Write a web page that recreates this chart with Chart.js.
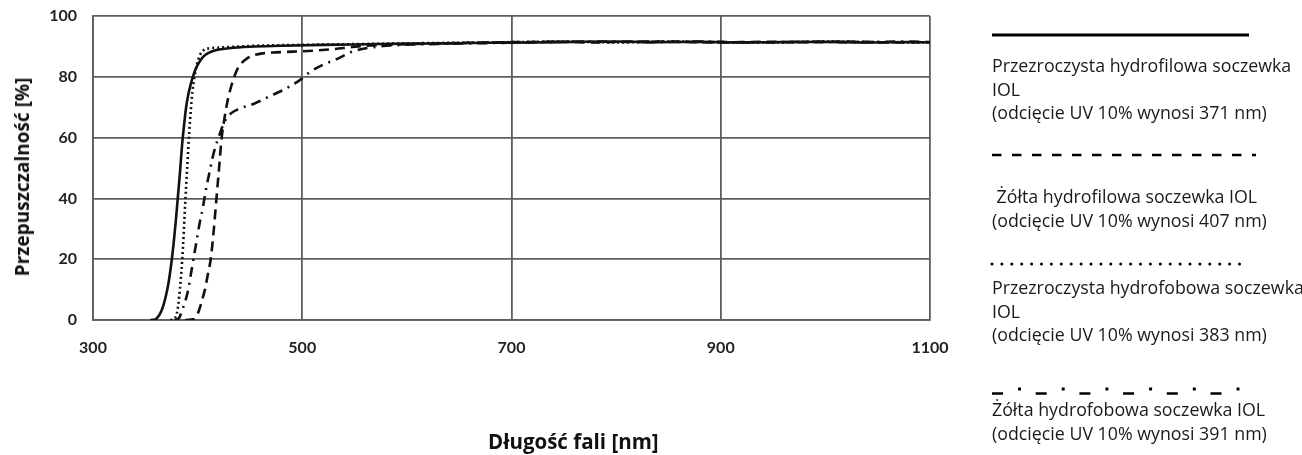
<!DOCTYPE html>
<html>
<head>
<meta charset="utf-8">
<script src="https://cdn.jsdelivr.net/npm/chart.js@4.4.1/dist/chart.umd.min.js"></script>
<style>
  html, body { margin: 0; padding: 0; background: #fff; }
  #wrap { position: relative; width: 1302px; height: 455px; overflow: hidden; }
  #myChart { position: absolute; left: 0; top: 0; }
  .lg { position: absolute; left: 992px; font-family: "Open Sans", sans-serif; font-size: 17.8px;
        line-height: 23.5px; color: #1a1a1a; white-space: nowrap; }
  #xTitle { position: absolute; left: 488px; top: 431px; font-family: "Open Sans", sans-serif;
            font-weight: bold; font-size: 20.5px; line-height: 20.5px; color: #111; white-space: nowrap; }
  #yTitle { position: absolute; left: 22px; top: 177px; transform: translate(-50%, -50%) rotate(-90deg);
            font-family: "Open Sans", sans-serif; font-weight: bold; font-size: 19px; color: #111; white-space: nowrap; }
  #legendLines { position: absolute; left: 0; top: 0; }
</style>
</head>
<body>
<div id="wrap">
  <canvas id="myChart" width="1302" height="455"></canvas>
  <div id="yTitle">Przepuszczalność [%]</div>
  <div id="xTitle">Długość fali [nm]</div>
  <svg id="legendLines" width="1302" height="455">
    <line x1="992" y1="35" x2="1249" y2="35" stroke="#000" stroke-width="3"/>
    <line x1="992" y1="155" x2="1256" y2="155" stroke="#000" stroke-width="2.5" stroke-dasharray="9.5 10.5"/>
    <line x1="992" y1="264" x2="1243" y2="264" stroke="#000" stroke-width="3" stroke-linecap="round" stroke-dasharray="0 9.9"/>
    <line x1="992" y1="393.5" x2="1250" y2="393.5" stroke="#000" stroke-width="2.5" stroke-dasharray="11 32.7"/>
    <line x1="992" y1="389" x2="1250" y2="389" stroke="#000" stroke-width="3" stroke-dasharray="0 26 3 14.7"/>
  </svg>
  <div class="lg" style="top:54px">Przezroczysta hydrofilowa soczewka<br>IOL<br>(odcięcie UV 10% wynosi 371 nm)</div>
  <div class="lg" style="top:185px">&nbsp;Żółta hydrofilowa soczewka IOL<br>(odcięcie UV 10% wynosi 407 nm)</div>
  <div class="lg" style="top:276px">Przezroczysta hydrofobowa soczewka<br>IOL<br>(odcięcie UV 10% wynosi 383 nm)</div>
  <div class="lg" style="top:398px">Żółta hydrofobowa soczewka IOL<br>(odcięcie UV 10% wynosi 391 nm)</div>
</div>
<script>
// axis ticks
const xTicks = [300, 500, 700, 900, 1100];
const yTicks = [0, 20, 40, 60, 80, 100];

// clear hydrophilic IOL (solid)
const clearHydrophilicNm = [355, 360, 364, 367, 369, 371, 373, 375, 377, 379, 381, 383, 385, 387, 389, 391, 393, 395, 398, 401, 405, 410, 418, 430, 450, 480, 520, 560, 600, 640, 680, 720, 760, 800, 840, 880, 920, 960, 1000, 1040, 1080, 1100];
const clearHydrophilicT = [0, 0.3, 2, 4.5, 7, 10, 14, 19, 25, 32, 40, 48, 57, 64, 70, 74, 77, 79.5, 82.5, 84.5, 86.5, 87.8, 88.8, 89.4, 89.9, 90.2, 90.5, 90.7, 90.9, 91.0, 91.2, 91.3, 91.5, 91.6, 91.4, 91.5, 91.3, 91.4, 91.5, 91.3, 91.4, 91.3];

// yellow hydrophilic IOL (dashed)
const yellowHydrophilicNm = [388, 397, 400, 403, 405, 407, 409.5, 412.5, 415, 418, 420.5, 423, 425.5, 428, 431, 434.5, 438, 442, 447, 453, 462, 472, 485, 500, 515, 530, 548, 565, 590, 620, 660, 700, 740, 780, 820, 860, 900, 940, 980, 1020, 1060, 1100];
const yellowHydrophilicT = [0, 0.3, 2, 5, 7.5, 10, 14.5, 20, 28, 40, 50, 60, 66, 71, 75.5, 79.5, 82.5, 84.5, 86, 87, 87.7, 88, 88.2, 88.4, 88.7, 89.1, 89.8, 90.3, 90.6, 90.9, 91.2, 91.4, 91.5, 91.3, 91.6, 91.5, 91.3, 91.5, 91.4, 91.6, 91.3, 91.4];

// clear hydrophobic IOL (dotted)
const clearHydrophobicNm = [374, 378, 380, 381.5, 383, 384.5, 386, 387.5, 389, 390.5, 392, 393.5, 395, 397, 399, 402, 406, 412, 420, 435, 455, 480, 520, 560, 600, 650, 700, 750, 800, 850, 900, 950, 1000, 1050, 1100];
const clearHydrophobicT = [0, 0.5, 2, 5, 10, 16, 24, 34, 44, 53, 62, 69, 75, 80, 83.5, 87, 88.8, 89.4, 89.6, 89.9, 90.2, 90.4, 90.6, 90.8, 91.0, 91.2, 91.4, 91.6, 91.3, 91.6, 91.4, 91.3, 91.6, 91.4, 91.3];

// yellow hydrophobic IOL (dash-dot)
const yellowHydrophobicNm = [378, 382, 385, 388, 391, 393.5, 396, 399, 402, 405, 408, 411, 414, 417, 420, 423, 427, 432, 440, 455, 470, 482, 498, 508, 520, 533, 548, 565, 590, 630, 680, 730, 780, 830, 880, 930, 980, 1030, 1080, 1100];
const yellowHydrophobicT = [0, 0.5, 3, 6, 10, 15, 20, 26, 32, 37, 43, 48, 53, 57, 60, 63, 66, 68, 69.5, 71.3, 73.8, 75.7, 79, 81.7, 84, 85.8, 88.3, 89.6, 90.4, 90.8, 91.1, 91.4, 91.6, 91.4, 91.6, 91.3, 91.5, 91.4, 91.6, 91.4];

const toPoints = (xs, ys) => xs.map((x, i) => ({ x: x, y: ys[i] }));

const lineBase = {
  borderColor: "#111",
  borderWidth: 2.6,
  pointRadius: 0,
  fill: false,
  cubicInterpolationMode: "monotone"
};

const gridColor = "#5e5e5e";
const tickFont = { family: "Lato", weight: "bold", size: 16 };

const ctx = document.getElementById("myChart").getContext("2d");
const myChart = new Chart(ctx, {
  type: "line",
  data: {
    datasets: [
      Object.assign({ label: "Przezroczysta hydrofilowa", data: toPoints(clearHydrophilicNm, clearHydrophilicT) }, lineBase),
      Object.assign({ label: "Żółta hydrofilowa", data: toPoints(yellowHydrophilicNm, yellowHydrophilicT), borderDash: [10, 6] }, lineBase),
      Object.assign({ label: "Przezroczysta hydrofobowa", data: toPoints(clearHydrophobicNm, clearHydrophobicT), borderDash: [2, 3] }, lineBase),
      Object.assign({ label: "Żółta hydrofobowa", data: toPoints(yellowHydrophobicNm, yellowHydrophobicT), borderDash: [10, 6, 2, 6] }, lineBase)
    ]
  },
  options: {
    responsive: false,
    animation: false,
    layout: { padding: { top: 16, right: 372, bottom: 0, left: 0 } },
    scales: {
      x: {
        type: "linear",
        min: xTicks[0],
        max: xTicks[xTicks.length - 1],
        afterBuildTicks: (scale) => { scale.ticks = xTicks.map(v => ({ value: v })); },
        afterFit: (scale) => { scale.height = 135; },
        grid: { color: gridColor, lineWidth: 1.8, drawTicks: false },
        border: { color: gridColor, width: 1.8 },
        ticks: { padding: 18, color: "#222", font: tickFont, maxRotation: 0, callback: (v) => String(v) }
      },
      y: {
        min: yTicks[0],
        max: yTicks[yTicks.length - 1],
        afterBuildTicks: (scale) => { scale.ticks = yTicks.map(v => ({ value: v })); },
        afterFit: (scale) => { scale.width = 93; scale.paddingTop = 0; scale.paddingBottom = 0; },
        grid: { color: gridColor, lineWidth: 1.8, drawTicks: false },
        border: { color: gridColor, width: 1.8 },
        ticks: { padding: 16, color: "#222", font: tickFont, callback: (v) => String(v) }
      }
    },
    plugins: {
      legend: { display: false },
      tooltip: { enabled: false }
    }
  }
});
</script>
</body>
</html>
